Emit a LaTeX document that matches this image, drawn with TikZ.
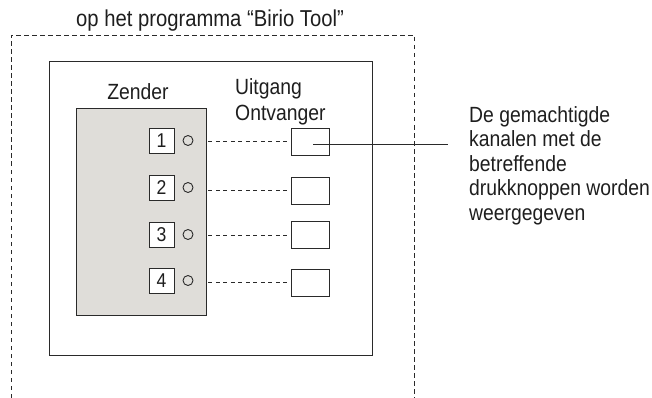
\documentclass[tikz,border=0pt]{standalone}
\usepackage{fontspec}
\setmainfont{Liberation Sans}[FakeStretch=0.88]
\definecolor{ink}{HTML}{2A2A2A}
\definecolor{txt}{HTML}{1E1E1E}
\definecolor{panel}{HTML}{DFDDD9}
\begin{document}
\begin{tikzpicture}[x=1pt,y=-1pt,
  every node/.style={text=txt},
  boxline/.style={draw=ink,line width=0.9pt},
  outerdash/.style={draw=ink,line width=0.9pt,dash pattern=on 4.5pt off 3.5pt},
  linkdash/.style={draw=ink,line width=0.9pt,dash pattern=on 4pt off 3.5pt},
  numbox/.style={boxline,fill=white,minimum width=25pt,minimum height=25pt,inner sep=0pt,font=\fontsize{20}{20}\selectfont},
  led/.style={boxline,circle,minimum size=10pt,inner sep=0pt},
  recv/.style={boxline,fill=white,minimum width=38pt,minimum height=27pt,inner sep=0pt},
  lbl/.style={font=\fontsize{22}{22}\selectfont,inner sep=0pt}
]
\useasboundingbox (0,0) rectangle (652,398);
% outer dashed frame (open at bottom)
\coordinate (o1) at (11,398);
\coordinate (o2) at (11,35);
\coordinate (o3) at (414,35);
\coordinate (o4) at (414,398);
\draw[outerdash] (o1) -- (o2) -- (o3) -- (o4);
\node[lbl,anchor=base,font=\fontsize{23}{23}\selectfont] (title) at (210,27) {op het programma “Birio Tool”};
% inner frame
\node[boxline,minimum width=323pt,minimum height=294pt,inner sep=0pt] (inner) at (210.5,208) {};
% transmitter panel
\node[boxline,fill=panel,minimum width=130pt,minimum height=207pt,inner sep=0pt] (gray) at (141,211.5) {};
\node[lbl,anchor=base] (zender) at (138,100) {Zender};
\node[lbl,anchor=base west] (uitgang) at (235,95) {Uitgang};
\node[lbl,anchor=base west] (ontv) at (235,121) {Ontvanger};
% channels
\foreach \i/\y/\ry in {1/140.5/141.5, 2/187.5/190.5, 3/234.5/235, 4/280.5/282.5}{
  \node[numbox] (n\i) at (161.5,\y) {\i};
  \node[led] (c\i) at (188,\y) {};
  \node[recv] (r\i) at (310,\ry) {};
  \draw[linkdash] (r\i.west -| gray.east) ++(2pt,0) -- (r\i.west);
}
% leader line
\coordinate (ls) at (313,144);
\coordinate (le) at (448,144);
\draw[draw=ink,line width=0.9pt] (ls) -- (le);
\node[anchor=north west,inner sep=0pt,align=left,font=\fontsize{22}{24.5}\selectfont] (desc) at (469,106)
  {De gemachtigde\\kanalen met de\\betreffende\\drukknoppen worden\\weergegeven};
\end{tikzpicture}
\end{document}
